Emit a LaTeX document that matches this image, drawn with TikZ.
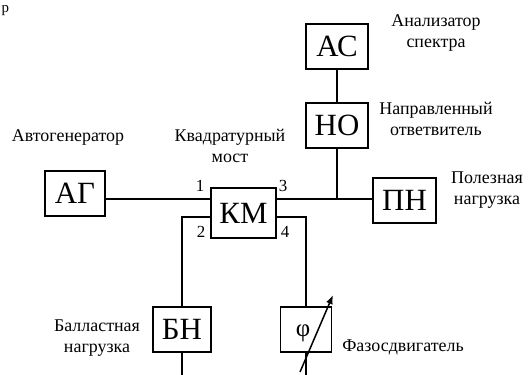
\documentclass[tikz,border=0pt]{standalone}
\usepackage{fontspec}
\setmainfont{Liberation Serif}
\usetikzlibrary{arrows.meta}
\begin{document}
\begin{tikzpicture}[x=1bp,y=-1bp,
  blk/.style={draw,line width=1.5bp,inner sep=0pt,font=\fontsize{31}{33}\selectfont},
  lbl/.style={font=\fontsize{18}{21.5}\selectfont,align=center,inner sep=0pt},
  num/.style={font=\fontsize{17}{19}\selectfont,inner sep=0pt},
  wire/.style={line width=1.5bp}]
\useasboundingbox (0,0) rectangle (528,374);
% fragment of text above
\node[font=\fontsize{15}{17}\selectfont,anchor=base west,inner sep=0pt] (frag) at (1.5,12) {р};
% blocks
\node[blk,minimum width=62bp,minimum height=45bp] (ac) at (337,46.5) {АС};
\node[blk,minimum width=62bp,minimum height=45bp] (no) at (337,125.5) {НО};
\node[blk,minimum width=60bp,minimum height=45bp] (ag) at (75,193.5) {АГ};
\node[blk,minimum width=65bp,minimum height=50bp] (km) at (243.5,213) {КМ};
\node[blk,minimum width=63bp,minimum height=45bp] (pn) at (404.5,200.5) {ПН};
\node[blk,minimum width=58bp,minimum height=45bp] (bn) at (182,329.5) {БН};
\node[blk,minimum width=51bp,minimum height=45bp] (ph) at (306,329.5) {};
\node[font=\fontsize{25}{27}\selectfont,inner sep=0pt] (phs) at (303,333) {φ};
% coordinates
\coordinate (row) at (0,199);
\coordinate (low) at (0,217);
\coordinate (junc) at (337,199);
\coordinate (bnc) at (182,217);
\coordinate (phc) at (306,217);
\coordinate (bnend) at (182,376);
\coordinate (phend) at (306,376);
\coordinate (arrs) at (300,372);
\coordinate (arre) at (333,295);
% wires
\draw[wire] (ac) -- (no);
\draw[wire] (no.south) -- (junc);
\draw[wire] (ag.east |- row) -- (km.west |- row);
\draw[wire] (km.east |- row) -- (pn.west |- row);
\draw[wire] (km.west |- low) -- (bnc) -- (bn.north);
\draw[wire] (km.east |- low) -- (phc) -- (ph.north);
\draw[wire] (bn.south) -- (bnend);
\draw[wire] (ph.south) -- (phend);
\draw[line width=1.5bp,-{Latex[length=9bp,width=7bp]}] (arrs) -- (arre);
% port numbers
\node[num] (n1) at (200,186) {1};
\node[num] (n3) at (283,186) {3};
\node[num] (n2) at (201,232) {2};
\node[num] (n4) at (285,232) {4};
% labels
\node[lbl] (lac) at (436,33) {Анализатор\\спектра};
\node[lbl] (lno) at (436,119) {Направленный\\ответвитель};
\node[lbl] (lag) at (68,137) {Автогенератор};
\node[lbl] (lkm) at (230,146) {Квадратурный\\мост};
\node[lbl] (lpn) at (487,190) {Полезная\\нагрузка};
\node[lbl] (lbn) at (97,338) {Балластная\\нагрузка};
\node[lbl] (lph) at (403,347) {Фазосдвигатель};
\end{tikzpicture}
\end{document}
